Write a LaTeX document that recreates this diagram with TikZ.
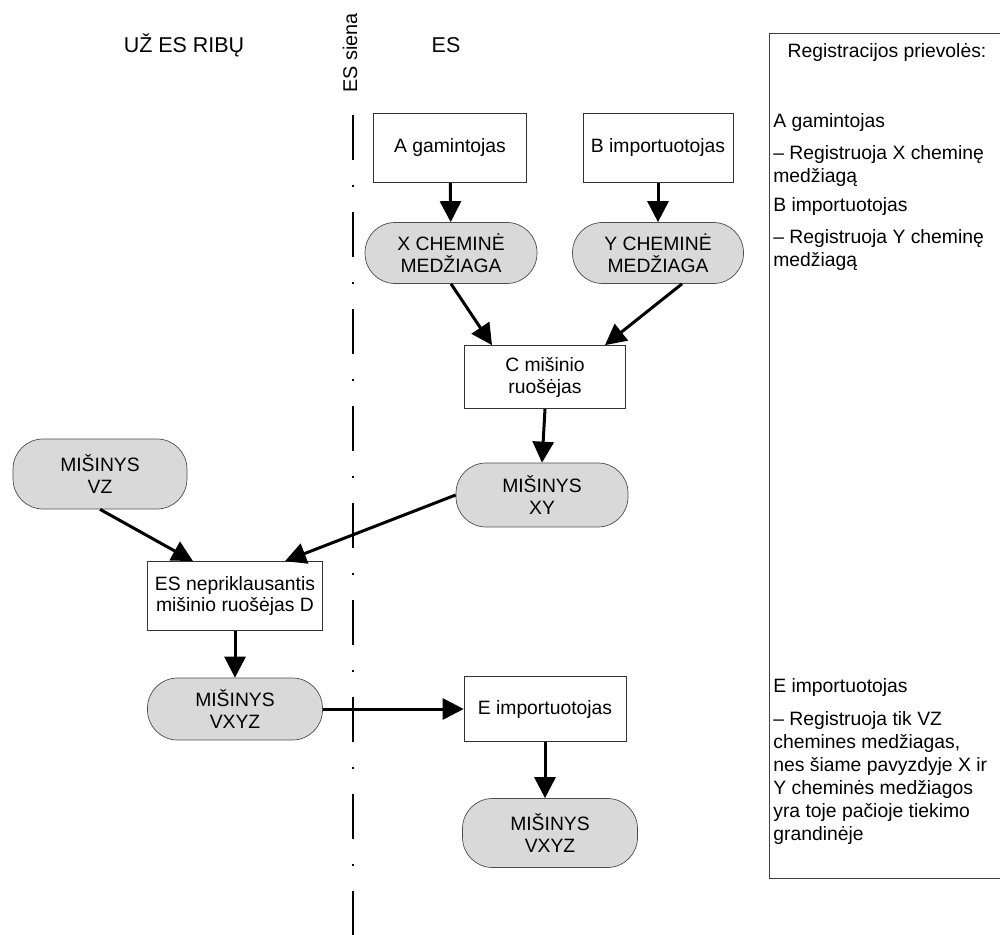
\documentclass[tikz,border=0pt]{standalone}
\usepackage{fontspec}
\setmainfont{Liberation Sans}
\usetikzlibrary{arrows.meta}

\begin{document}
\begin{tikzpicture}[
  x=0.02cm, y=-0.02cm,
  every node/.style={font=\fontsize{11}{12.5}\selectfont},
  head/.style={font=\fontsize{12.2}{14}\selectfont},
  actor/.style={draw=black!80, fill=white, align=center, inner sep=0pt},
  pill/.style={draw=black!70, fill=gray!30, align=center, inner sep=0pt, rounded corners=0.6cm},
  flow/.style={line width=0.06cm, -{Triangle[length=0.42cm, width=0.42cm]}},
  note/.style={anchor=base west, inner sep=0pt},
]
\useasboundingbox (0,0) rectangle (1000,935);

% --- Headers ---
\node[head] (outside) at (184,45) {UŽ ES RIBŲ};
\node[head] (inside) at (446,45) {ES};
\node[rotate=90, font=\fontsize{11.3}{13}\selectfont] (border) at (350,53) {ES siena};

% ES border (dash-dot)
\coordinate (wallT) at (353,115);
\coordinate (wallB) at (353,935);
\draw[line width=0.055cm, dash pattern=on 0.9cm off 0.5cm on 0.04cm off 0.5cm] (wallT) -- (wallB);

% --- Row 1: actors and substances ---
\node[actor, minimum width=3.06cm, minimum height=1.38cm] (A) at (450,148) {A gamintojas};
\node[actor, minimum width=3.0cm, minimum height=1.38cm] (B) at (658,148) {B importuotojas};
\node[pill, minimum width=3.44cm, minimum height=1.22cm] (X) at (451,253) {X CHEMINĖ\\MEDŽIAGA};
\node[pill, minimum width=3.42cm, minimum height=1.22cm] (Y) at (658,253) {Y CHEMINĖ\\MEDŽIAGA};

% --- Row 2: mixture formulator in ES ---
\node[actor, minimum width=3.22cm, minimum height=1.26cm] (C) at (545,377) {C mišinio\\ruošėjas};
\node[pill, minimum width=3.44cm, minimum height=1.28cm] (XY) at (542,495) {MIŠINYS\\XY};

% --- Outside ES ---
\node[pill, minimum width=3.48cm, minimum height=1.4cm] (VZ) at (100,474) {MIŠINYS\\VZ};
\node[actor, minimum width=3.5cm, minimum height=1.38cm] (D) at (235,596) {ES nepriklausantis\\mišinio ruošėjas D};
\node[pill, minimum width=3.5cm, minimum height=1.24cm] (VXYZa) at (235,709) {MIŠINYS\\VXYZ};

% --- Import back into ES ---
\node[actor, minimum width=3.24cm, minimum height=1.3cm] (E) at (545,709) {E importuotojas};
\node[pill, minimum width=3.5cm, minimum height=1.38cm] (VXYZb) at (550,833) {MIŠINYS\\VXYZ};

% --- Flows ---
\draw[flow] (A) -- (X);
\draw[flow] (B) -- (Y);
\draw[flow] (X.south) -- ([xshift=-1.06cm]C.north);
\draw[flow] ([xshift=0.48cm]Y.south) -- ([xshift=1.2cm]C.north);
\draw[flow] (C.south) -- (XY.north);
\draw[flow] (XY.west) -- ([xshift=1.0cm]D.north);
\draw[flow] (VZ.south) -- ([xshift=-0.84cm]D.north);
\draw[flow] (D) -- (VXYZa);
\draw[flow] (VXYZa) -- (E);
\draw[flow] (E) -- (E.south |- VXYZb.north);

% --- Obligations panel ---
\draw[draw=black!75] (769,33) rectangle (1010,878);
\node (title) at (887,53) {Registracijos prievolės:};
\foreach \yy/\txt [count=\i] in {128/{A gamintojas}, 160/{– Registruoja X cheminę}, 183/{medžiagą},
  212/{B importuotojas}, 244/{– Registruoja Y cheminę}, 267/{medžiagą},
  692/{E importuotojas}, 725/{– Registruoja tik VZ}, 748/{chemines medžiagas,},
  771/{nes šiame pavyzdyje X ir}, 794/{Y cheminės medžiagos}, 817/{yra toje pačioje tiekimo},
  840/{grandinėje}}
  \node[note] (line\i) at (773,\yy) {\txt};

\end{tikzpicture}
\end{document}
